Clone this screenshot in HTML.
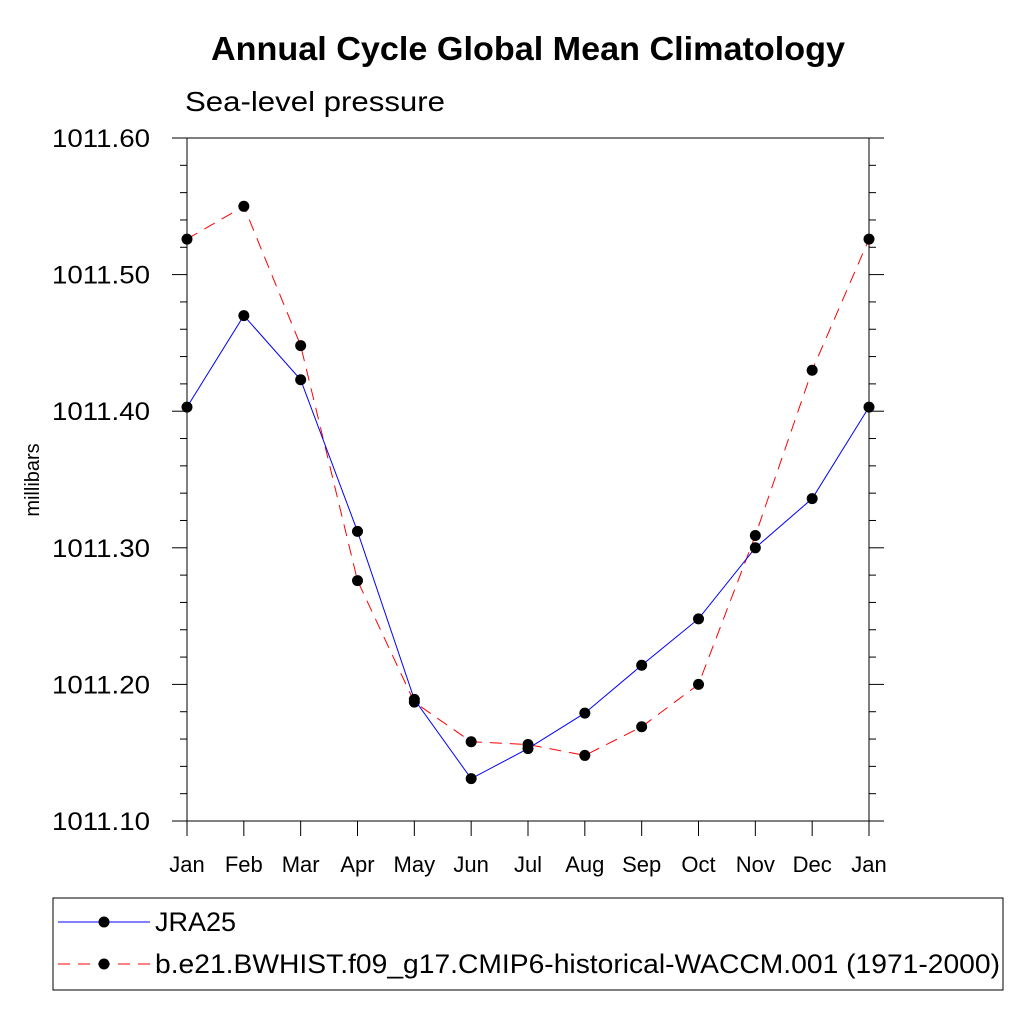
<!DOCTYPE html>
<html><head><meta charset="utf-8"><style>
body{margin:0;background:#fff;width:1024px;height:1024px;overflow:hidden}
svg text{font-family:"Liberation Sans",sans-serif}
</style></head><body>
<svg id="chart" width="1024" height="1024" xmlns="http://www.w3.org/2000/svg">
<text x="211" y="60" font-size="33" font-weight="bold" textLength="634" lengthAdjust="spacingAndGlyphs">Annual Cycle Global Mean Climatology</text>
<text x="185" y="111" font-size="28" textLength="260" lengthAdjust="spacingAndGlyphs">Sea-level pressure</text>
<text transform="translate(39,480) rotate(-90)" font-size="20" text-anchor="middle">millibars</text>
<g id="axes"></g>
<g id="series"></g>
<rect x="53" y="898" width="950" height="92" fill="none" stroke="#000" stroke-width="1"/>
<g>
<line x1="58" y1="922" x2="150" y2="922" stroke="#00f" stroke-width="1"/>
<circle cx="104" cy="922" r="5.5" fill="#000"/>
<text x="155" y="931" font-size="27">JRA25</text>
</g>
<g>
<line x1="58" y1="964" x2="150" y2="964" stroke="#f00" stroke-width="1" stroke-dasharray="12,8"/>
<circle cx="104" cy="964" r="5.5" fill="#000"/>
<text x="155" y="973" font-size="27" textLength="845" lengthAdjust="spacingAndGlyphs">b.e21.BWHIST.f09_g17.CMIP6-historical-WACCM.001 (1971-2000)</text>
</g>
</svg>
<script>
const months = ["Jan","Feb","Mar","Apr","May","Jun","Jul","Aug","Sep","Oct","Nov","Dec","Jan"];
const jra25 = [1011.403,1011.470,1011.423,1011.312,1011.189,1011.131,1011.153,1011.179,1011.214,1011.248,1011.300,1011.336,1011.403];
const model = [1011.526,1011.550,1011.448,1011.276,1011.187,1011.158,1011.156,1011.148,1011.169,1011.200,1011.309,1011.430,1011.526];
const yTicks = [1011.10,1011.20,1011.30,1011.40,1011.50,1011.60];
const yMin=1011.10, yMax=1011.60;
const L=187,R=869,T=138,B=821;
const NS="http://www.w3.org/2000/svg";
const xs=i=>L+(R-L)*i/(months.length-1);
const ys=v=>B-(v-yMin)/(yMax-yMin)*(B-T);
const axes=document.getElementById('axes'), ser=document.getElementById('series');
function mk(tag,at,parent){const e=document.createElementNS(NS,tag);for(const k in at)e.setAttribute(k,at[k]);parent.appendChild(e);return e;}
const frame=mk('rect',{x:L,y:T,width:R-L,height:B-T,fill:'none',stroke:'#000','stroke-width':1},axes);


for(let v=yMin;v<=yMax+1e-9;v+=0.02){
  const y=ys(v);const major=Math.abs(Math.round(v*10)/10-v)<1e-6;const len=major?15:7;
  mk('line',{x1:L-len,y1:y,x2:L,y2:y,stroke:'#000'},axes);
  mk('line',{x1:R,y1:y,x2:R+len,y2:y,stroke:'#000'},axes);
}
yTicks.forEach(v=>{
  const t=mk('text',{x:150,y:ys(v)+9,'font-size':25,'text-anchor':'end',textLength:98,lengthAdjust:'spacingAndGlyphs'},axes);
  t.textContent=v.toFixed(2);
  
  
});
months.forEach((m,i)=>{
  const x=xs(i);
  mk('line',{x1:x,y1:B,x2:x,y2:B+15,stroke:'#000'},axes);
  const t=mk('text',{x:x,y:872,'font-size':22,'text-anchor':'middle'},axes);
  t.textContent=m;
  
  
});
function draw(data,color,dash,name){
  const pl=mk('polyline',{points:data.map((v,i)=>xs(i)+','+ys(v)).join(' '),fill:'none',stroke:color,'stroke-width':1,'stroke-dasharray':dash},ser);
  
  
  data.forEach((v,i)=>{
    const c=mk('circle',{cx:xs(i),cy:ys(v),r:5.5,fill:'#000'},ser);
    
    
  });
}
draw(model,'#f00','12,8','model');
draw(jra25,'#00f','none','jra25');
</script>
</body></html>
